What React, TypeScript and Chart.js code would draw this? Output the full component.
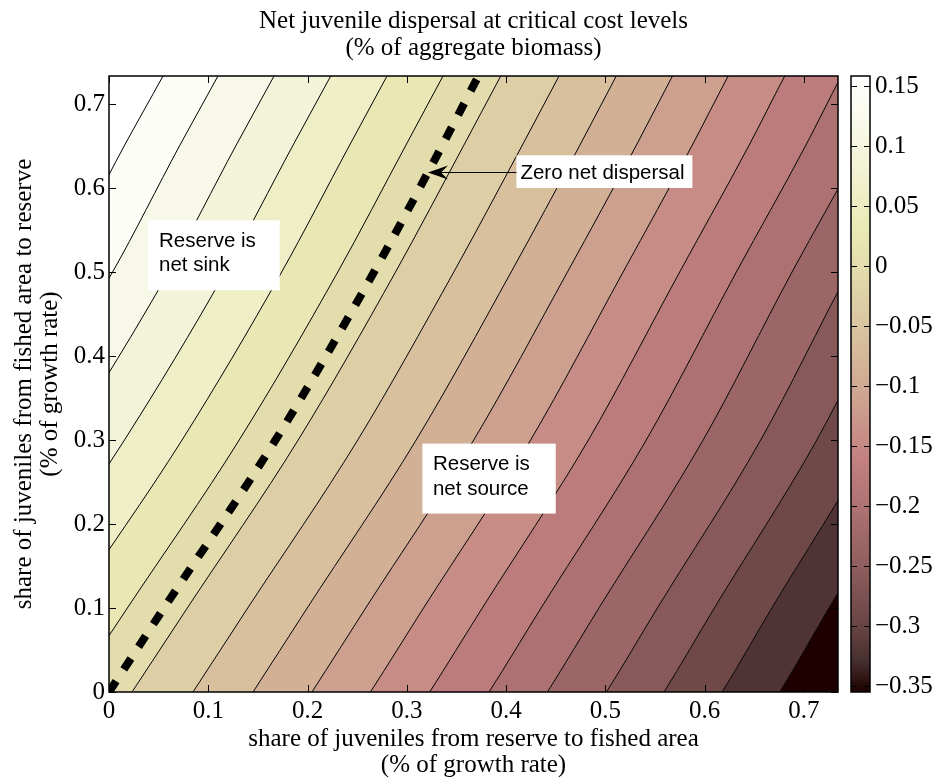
import React, { useEffect, useRef } from 'react';
import { Chart, registerables } from 'chart.js';

Chart.register(...registerables);

const SERIF = "'Liberation Serif', 'Times New Roman', serif";
const SANS = "'Liberation Sans', Arial, sans-serif";

// ---------- texts ----------
const TITLE = ['Net juvenile dispersal at critical cost levels', '(% of aggregate biomass)'];
const X_TITLE = ['share of juveniles from reserve to fished area', '(% of growth rate)'];
const Y_TITLE = ['share of juveniles from fished area to reserve', '(% of growth rate)'];

// ---------- axes ----------
const X_MAX = 0.7345;
const Y_MAX = 0.7333;
const X_TICKS = [0, 0.1, 0.2, 0.3, 0.4, 0.5, 0.6, 0.7];
const X_TICK_LABELS = ['0', '0.1', '0.2', '0.3', '0.4', '0.5', '0.6', '0.7'];
const Y_TICKS = [0, 0.1, 0.2, 0.3, 0.4, 0.5, 0.6, 0.7];
const Y_TICK_LABELS = ['0', '0.1', '0.2', '0.3', '0.4', '0.5', '0.6', '0.7'];

// ---------- colour bar ----------
const CB_MIN = -0.3546;
const CB_MAX = 0.1583;
const CB_TICKS = [0.15, 0.1, 0.05, 0, -0.05, -0.1, -0.15, -0.2, -0.25, -0.3, -0.35];
const CB_TICK_LABELS = ['0.15', '0.1', '0.05', '0', '\u22120.05', '\u22120.1', '\u22120.15', '\u22120.2', '\u22120.25', '\u22120.3', '\u22120.35'];

// ---------- contour lines (x positions at the shared y levels) ----------
const Y_LEVELS = [-0.36, 0, 0.1, 0.3, 0.5, 0.65, 0.7333, 1.19];

// positive levels, highest first
const POS_LINES = [
  [-0.5348, -0.3337, -0.2747, -0.1572, -0.0519, 0.0153, 0.0544, 0.2631],
  [-0.4766, -0.2755, -0.2170, -0.1005, 0.0036, 0.0710, 0.1098, 0.3185],
  [-0.4175, -0.2163, -0.1584, -0.0428, 0.0601, 0.1277, 0.1663, 0.3749],
  [-0.3575, -0.1564, -0.0990, 0.0156, 0.1172, 0.1850, 0.2234, 0.4321],
  [-0.2980, -0.0969, -0.0401, 0.0736, 0.1740, 0.2420, 0.2801, 0.4888],
  [-0.2389, -0.0377, 0.0185, 0.1312, 0.2305, 0.2987, 0.3365, 0.5452],
];

// negative levels, closest to zero first
const NEG_LINES = [
  [-0.1779, 0.0232, 0.0789, 0.1906, 0.2887, 0.3571, 0.3947, 0.6033],
  [-0.1165, 0.0846, 0.1398, 0.2506, 0.3474, 0.4160, 0.4534, 0.6620],
  [-0.0560, 0.1451, 0.1997, 0.3095, 0.4052, 0.4740, 0.5111, 0.7197],
  [0.0034, 0.2045, 0.2586, 0.3675, 0.4619, 0.5309, 0.5677, 0.7764],
  [0.0623, 0.2634, 0.3169, 0.4248, 0.5180, 0.5872, 0.6238, 0.8325],
  [0.1220, 0.3231, 0.3761, 0.4830, 0.5750, 0.6445, 0.6808, 0.8895],
  [0.1818, 0.3829, 0.4353, 0.5413, 0.6321, 0.7017, 0.7378, 0.9464],
  [0.2406, 0.4417, 0.4936, 0.5986, 0.6882, 0.7580, 0.7938, 1.0025],
  [0.3001, 0.5012, 0.5525, 0.6566, 0.7449, 0.8150, 0.8505, 1.0592],
  [0.3581, 0.5592, 0.6099, 0.7131, 0.8002, 0.8705, 0.9058, 1.1145],
  [0.4165, 0.6177, 0.6678, 0.7700, 0.8560, 0.9264, 0.9615, 1.1701],
  [0.4747, 0.6758, 0.7254, 0.8266, 0.9114, 0.9820, 1.0168, 1.2255],
];

// zero net dispersal line
const ZERO_Y = [0, 0.1, 0.3, 0.5, 0.65, 0.7333, 0.76];
const ZERO_X = [0, 0.0554, 0.1678, 0.2670, 0.3355, 0.3723, 0.3845];

// band colours, darkest (lowest) band first
const BAND_COLORS = [
  '#1e0000', 'rgb(80,51,52)', 'rgb(111,72,72)', 'rgb(136,89,89)', 'rgb(156,102,102)',
  'rgb(173,113,113)', 'rgb(189,124,124)', 'rgb(199,140,133)', 'rgb(205,159,142)',
  'rgb(210,176,150)', 'rgb(216,192,158)', 'rgb(222,206,166)', 'rgb(227,220,173)',
  'rgb(233,232,180)', 'rgb(238,238,199)', 'rgb(243,243,217)', 'rgb(248,248,233)',
  'rgb(253,253,248)', '#ffffff',
];

// colour map for the colour bar (position 0 = bottom, 1 = top)
const CMAP_POS = [0, 0.05, 0.1, 0.2, 0.3, 0.375, 0.45, 0.5, 0.6, 0.7, 0.75, 0.85, 0.95, 1];
const CMAP_COL = [
  'rgb(30,0,0)', 'rgb(71,47,47)', 'rgb(101,66,66)', 'rgb(142,93,93)', 'rgb(174,114,114)',
  'rgb(195,128,128)', 'rgb(203,154,140)', 'rgb(208,170,147)', 'rgb(218,198,161)',
  'rgb(228,222,174)', 'rgb(233,233,180)', 'rgb(242,242,213)', 'rgb(251,251,242)', 'rgb(255,255,255)',
];

// ---------- annotations ----------
const BOXES = [
  { x0: 0.0393, x1: 0.1720, yTop: 0.5615, yBottom: 0.4782, textX: 0.0504, baselines: [0.5298, 0.5012], lines: ['Reserve is', 'net sink'] },
  { x0: 0.3158, x1: 0.4501, yTop: 0.2957, yBottom: 0.2124, textX: 0.3264, baselines: [0.2639, 0.2350], lines: ['Reserve is', 'net source'] },
  { x0: 0.4105, x1: 0.5878, yTop: 0.6389, yBottom: 0.6000, textX: 0.4145, baselines: [0.6104], lines: ['Zero net dispersal'] },
];
const ARROW = { fromX: 0.4105, toX: 0.3214, y: 0.619 };

const toPoints = (xs: number[], ys: number[]) => xs.map((x, i) => ({ x, y: ys[i] }));

const framePlugin = {
  id: 'frameTicks',
  afterDraw(chart: any) {
    const { ctx, chartArea: a, scales } = chart;
    const xs = scales.x;
    const ys = scales.y;
    ctx.save();
    ctx.strokeStyle = '#000';
    ctx.lineWidth = 1;
    const L = 7;
    ctx.beginPath();
    X_TICKS.forEach((v) => {
      const px = Math.round(xs.getPixelForValue(v)) + 0.5;
      ctx.moveTo(px, a.bottom); ctx.lineTo(px, a.bottom - L);
      ctx.moveTo(px, a.top); ctx.lineTo(px, a.top + L);
    });
    Y_TICKS.forEach((v) => {
      const py = Math.round(ys.getPixelForValue(v)) + 0.5;
      ctx.moveTo(a.left, py); ctx.lineTo(a.left + L, py);
      ctx.moveTo(a.right, py); ctx.lineTo(a.right - L, py);
    });
    ctx.stroke();
    ctx.lineWidth = 1.5;
    ctx.strokeRect(a.left, a.top, a.right - a.left, a.bottom - a.top);
    ctx.restore();
  },
};

const annotationPlugin = {
  id: 'boxesArrow',
  afterDatasetsDraw(chart: any) {
    const { ctx, scales } = chart;
    const xs = scales.x;
    const ys = scales.y;
    ctx.save();
    BOXES.forEach((b) => {
      const x0 = xs.getPixelForValue(b.x0);
      const x1 = xs.getPixelForValue(b.x1);
      const y0 = ys.getPixelForValue(b.yTop);
      const y1 = ys.getPixelForValue(b.yBottom);
      ctx.fillStyle = '#ffffff';
      ctx.fillRect(x0, y0, x1 - x0, y1 - y0);
      ctx.fillStyle = '#000';
      ctx.font = `20.5px ${SANS}`;
      ctx.textAlign = 'left';
      ctx.textBaseline = 'alphabetic';
      b.lines.forEach((t, i) => {
        ctx.fillText(t, xs.getPixelForValue(b.textX), ys.getPixelForValue(b.baselines[i]));
      });
    });
    const ax0 = xs.getPixelForValue(ARROW.fromX);
    const ax1 = xs.getPixelForValue(ARROW.toX);
    const ay = Math.round(ys.getPixelForValue(ARROW.y)) + 0.5;
    ctx.strokeStyle = '#000';
    ctx.lineWidth = 1;
    ctx.beginPath();
    ctx.moveTo(ax0, ay);
    ctx.lineTo(ax1 + 8, ay);
    ctx.stroke();
    ctx.fillStyle = '#000';
    ctx.beginPath();
    ctx.moveTo(ax1, ay);
    ctx.lineTo(ax1 + 20, ay - 7);
    ctx.lineTo(ax1 + 13, ay);
    ctx.lineTo(ax1 + 20, ay + 7);
    ctx.closePath();
    ctx.fill();
    ctx.restore();
  },
};

const cbFramePlugin = {
  id: 'cbFrame',
  afterDatasetsDraw(chart: any) {
    const { ctx, chartArea: a, scales } = chart;
    const ys = scales.y;
    ctx.save();
    ctx.strokeStyle = '#000';
    ctx.lineWidth = 1;
    ctx.beginPath();
    CB_TICKS.forEach((v) => {
      const py = Math.round(ys.getPixelForValue(v)) + 0.5;
      ctx.moveTo(a.left, py); ctx.lineTo(a.left + 6, py);
      ctx.moveTo(a.right, py); ctx.lineTo(a.right - 6, py);
    });
    ctx.stroke();
    ctx.lineWidth = 1.5;
    ctx.strokeRect(a.left, a.top, a.right - a.left, a.bottom - a.top);
    ctx.restore();
  },
};

export default function App() {
  const mainRef = useRef<HTMLCanvasElement>(null);
  const cbRef = useRef<HTMLCanvasElement>(null);

  useEffect(() => {
    const allLines = [...POS_LINES, ...NEG_LINES];
    const datasets: any[] = allLines.map((xs, i) => ({
      data: toPoints(xs, Y_LEVELS),
      borderColor: '#000',
      borderWidth: 1,
      pointRadius: 0,
      cubicInterpolationMode: 'monotone',
      fill: i === 0 ? false : '-1',
      backgroundColor: BAND_COLORS[BAND_COLORS.length - 1 - i],
    }));
    datasets.push({
      data: toPoints(NEG_LINES[NEG_LINES.length - 1], Y_LEVELS),
      borderColor: 'rgba(0,0,0,0)',
      borderWidth: 0,
      pointRadius: 0,
      cubicInterpolationMode: 'monotone',
      fill: 'start',
      backgroundColor: BAND_COLORS[0],
    });
    datasets.push({
      data: toPoints(ZERO_X, ZERO_Y),
      borderColor: '#000',
      borderWidth: 8,
      borderDash: [13, 14],
      borderCapStyle: 'butt',
      pointRadius: 0,
      cubicInterpolationMode: 'monotone',
      fill: false,
      order: -1,
    });

    const tickFont = { family: SERIF, size: 25 };

    const main = new Chart(mainRef.current as HTMLCanvasElement, {
      type: 'line',
      data: { datasets },
      options: {
        animation: false,
        responsive: false,
        devicePixelRatio: 1,
        layout: { padding: { left: 0, right: 99, top: 0, bottom: 0 } },
        plugins: {
          legend: { display: false },
          tooltip: { enabled: false },
          filler: { drawTime: 'beforeDatasetsDraw' },
        },
        scales: {
          x: {
            type: 'linear',
            position: 'bottom',
            min: 0,
            max: X_MAX,
            afterBuildTicks: (s: any) => { s.ticks = X_TICKS.map((v) => ({ value: v })); },
            afterFit: (s: any) => { s.height = 91; },
            grid: { display: false, drawTicks: false },
            border: { display: false },
            ticks: {
              color: '#000', font: tickFont, padding: 4, maxRotation: 0, autoSkip: false,
              callback: (_v: any, i: number) => X_TICK_LABELS[i],
            },
            title: {
              display: true, text: X_TITLE, color: '#000',
              font: { family: SERIF, size: 25, lineHeight: 1.04 },
              padding: { top: 0, bottom: 5 },
            },
          },
          x2: {
            type: 'linear',
            position: 'top',
            min: 0,
            max: 1,
            afterFit: (s: any) => { s.height = 76; },
            grid: { display: false, drawTicks: false },
            border: { display: false },
            ticks: { display: false },
            title: {
              display: true, text: TITLE, color: '#000',
              font: { family: SERIF, size: 25, lineHeight: 1.08 },
              padding: { top: 7.5, bottom: 0 },
            },
          },
          y: {
            type: 'linear',
            position: 'left',
            min: 0,
            max: Y_MAX,
            afterBuildTicks: (s: any) => { s.ticks = Y_TICKS.map((v) => ({ value: v })); },
            afterFit: (s: any) => { s.width = 109; },
            grid: { display: false, drawTicks: false },
            border: { display: false },
            ticks: {
              color: '#000', font: tickFont, padding: 4, autoSkip: false,
              callback: (_v: any, i: number) => Y_TICK_LABELS[i],
            },
            title: {
              display: true, text: Y_TITLE, color: '#000',
              font: { family: SERIF, size: 25, lineHeight: 1.04 },
              padding: { top: 11, bottom: 0 },
            },
          },
        },
      } as any,
      plugins: [annotationPlugin, framePlugin],
    });

    const cb = new Chart(cbRef.current as HTMLCanvasElement, {
      type: 'bar',
      data: {
        labels: [''],
        datasets: [{
          data: [[CB_MIN, CB_MAX]],
          borderWidth: 0,
          barPercentage: 1,
          categoryPercentage: 1,
          backgroundColor: (ctx: any) => {
            const chart = ctx.chart;
            if (!chart.chartArea) return '#ffffff';
            const ys = chart.scales.y;
            const g = chart.ctx.createLinearGradient(0, ys.getPixelForValue(CB_MIN), 0, ys.getPixelForValue(CB_MAX));
            CMAP_POS.forEach((p, i) => g.addColorStop(p, CMAP_COL[i]));
            return g;
          },
        }],
      },
      options: {
        animation: false,
        responsive: false,
        devicePixelRatio: 1,
        layout: { padding: { left: 6, right: 0, top: 76, bottom: 91 } },
        plugins: { legend: { display: false }, tooltip: { enabled: false } },
        scales: {
          x: { display: false },
          y: {
            position: 'right',
            min: CB_MIN,
            max: CB_MAX,
            afterBuildTicks: (s: any) => { s.ticks = CB_TICKS.map((v) => ({ value: v })); },
            afterFit: (s: any) => { s.width = 67; },
            grid: { display: false, drawTicks: false },
            border: { display: false },
            ticks: {
              color: '#000', font: tickFont, padding: 5, autoSkip: false,
              callback: (_v: any, i: number) => CB_TICK_LABELS[i],
            },
          },
        },
      } as any,
      plugins: [cbFramePlugin],
    });

    return () => {
      main.destroy();
      cb.destroy();
    };
  }, []);

  return (
    <div style={{ position: 'absolute', left: 0, top: 0, width: 937, height: 783, background: '#ffffff' }}>
      <canvas ref={mainRef} width={937} height={783}
        style={{ position: 'absolute', left: 0, top: 0, width: 937, height: 783 }} />
      <canvas ref={cbRef} width={92} height={783}
        style={{ position: 'absolute', left: 845, top: 0, width: 92, height: 783 }} />
    </div>
  );
}
